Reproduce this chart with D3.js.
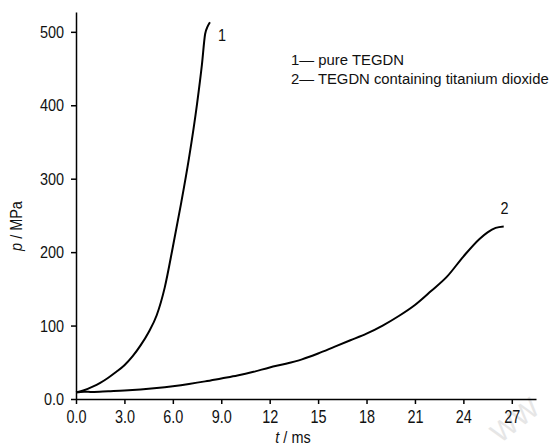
<!DOCTYPE html>
<html><head><meta charset="utf-8">
<script src="https://cdn.jsdelivr.net/npm/d3@7"></script>
<style>body{margin:0;background:#fff}svg{display:block}text{font-family:"Liberation Sans Narrow","Arial Narrow","Liberation Sans",sans-serif;fill:#111}</style>
</head><body><svg id="c" width="555" height="448"></svg>
<script>
const xTicks = [0,3,6,9,12,15,18,21,24,27];
const xTickLabels = ["0.0","3.0","6.0","9.0","12","15","18","21","24","27"];
const yTicks = [0,100,200,300,400,500];
const yTickLabels = ["0.0","100","200","300","400","500"];
const t1 = [0,0.5,1.0,1.5,2.0,2.5,3.0,3.5,4.0,4.5,5.0,5.5,6.0,6.5,7.0,7.5,7.8,8.0,8.15,8.3];
const p1 = [9,12,16.5,22,29,37,46,58,73,91,114,152,207,265,328,402,455,497,507,513];
const t2 = [0,0.5,1,2,3,4,5,6,7,8,9,10,11,12,13,14,15,16,17,18,19,20,21,22,23,24,25,25.5,26,26.5];
const p2 = [9,10,9.5,10.5,11.5,13,15,17.5,20.5,24,28,32,37,43,48,54,62,71,80,89,100,113,128,147,167,194,218,227,233,235];
const legendLines = ["1\u2014 pure TEGDN","2\u2014 TEGDN containing titanium dioxide"];
const curveLabels = ["1","2"];

const svg = d3.select("#c");
const x = d3.scaleLinear().domain([0,28.5]).range([76,536]);
const y = d3.scaleLinear().domain([0,527]).range([399,12]);

// faint watermark
svg.append("text").attr("transform","translate(500,444) rotate(-38)").attr("font-size",28)
  .style("fill","#e6e6e6").attr("font-family","Liberation Sans").text("WW");

const xAxis = d3.axisBottom(x).tickValues(xTicks).tickFormat((d,i)=>xTickLabels[i]).tickSize(5).tickSizeOuter(0);
const gx = svg.append("g").attr("transform","translate(0,399)").call(xAxis);
const yAxis = d3.axisLeft(y).tickValues(yTicks).tickFormat((d,i)=>yTickLabels[i]).tickSize(5).tickSizeOuter(0);
const gy = svg.append("g").attr("transform","translate(76,0)").call(yAxis);
[gx,gy].forEach(g=>{
  g.select(".domain").attr("stroke","#000").attr("stroke-width",1.5);
  g.selectAll(".tick line").attr("stroke","#000").attr("stroke-width",1.5);
  g.selectAll(".tick text").attr("font-size",17).attr("fill","#111").attr("font-family",null);
});
gx.selectAll(".tick text").attr("y",0).attr("dy",0).attr("transform","translate(0,24) scale(0.85,1.12)");
gy.selectAll(".tick text").attr("x",0).attr("transform","translate(-12,0) scale(0.85,1)");

const line = d3.line().x(d=>x(d[0])).y(d=>y(d[1])).curve(d3.curveMonotoneX);
svg.append("path").datum(t1.map((t,i)=>[t,p1[i]])).attr("d",line)
  .attr("fill","none").attr("stroke","#000").attr("stroke-width",2);
svg.append("path").datum(t2.map((t,i)=>[t,p2[i]])).attr("d",line)
  .attr("fill","none").attr("stroke","#000").attr("stroke-width",2);

svg.append("text").attr("transform","translate("+x(8.8)+","+y(488)+") scale(0.85,1)").attr("font-size",17).text(curveLabels[0]);
svg.append("text").attr("transform","translate("+x(26.3)+","+y(252)+") scale(0.85,1)").attr("font-size",17).text(curveLabels[1]);

const legendWidths = [113, 258];
legendLines.forEach((s,i)=>{
  const t = svg.append("text").attr("font-size",15.5).text(s);
  const w = t.node().getComputedTextLength();
  const k = legendWidths[i]/w;
  t.attr("transform","translate(291,"+(65+i*18.5)+") scale("+k+",1)");
});

const xl = svg.append("text").attr("transform","translate(293,443) scale(0.85,1)").attr("font-size",17).attr("text-anchor","middle");
xl.append("tspan").attr("font-style","italic").text("t");
xl.append("tspan").text("  / ms");
const yl = svg.append("text").attr("transform","translate(22,226) rotate(-90) scale(0.85,1)").attr("font-size",17).attr("text-anchor","middle");
yl.append("tspan").attr("font-style","italic").text("p");
yl.append("tspan").text("  / MPa");
</script></body></html>
